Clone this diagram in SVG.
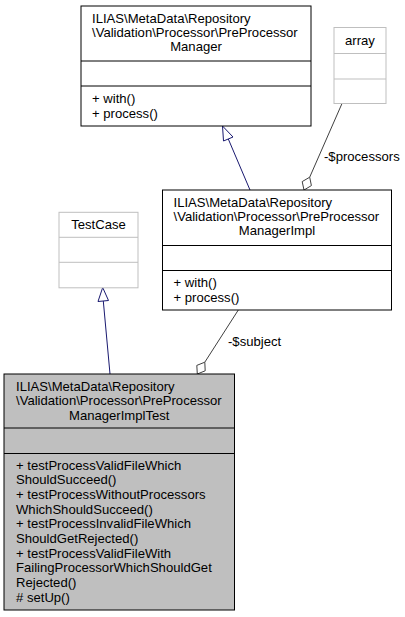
<svg xmlns="http://www.w3.org/2000/svg" width="405" height="617" viewBox="0 0 405 617">
<style>
text{font-family:"Liberation Sans",Arial,Helvetica,sans-serif;font-size:13.1px;fill:#000}
.c{text-anchor:middle}
.box{fill:#fff;stroke:#000;stroke-width:1}
.gbox{fill:#fff;stroke:#bfbfbf;stroke-width:1}
.sel{fill:#bfbfbf;stroke:#000;stroke-width:1}
.k{stroke:#000;stroke-width:1}
.g{stroke:#bfbfbf;stroke-width:1}
.inh{stroke:#191970;stroke-width:1;fill:none}
.inhh{stroke:#191970;stroke-width:1;fill:#fff}
.agg{stroke:#404040;stroke-width:1;fill:none}
.aggh{stroke:#404040;stroke-width:1;fill:#fff}
</style>
<rect width="405" height="617" fill="#fff"/>
<g id="connectors">
<line class="inh" x1="250" y1="190" x2="228.3" y2="139"/>
<polygon class="inhh" points="222.5,126 233,137 223.5,141"/>
<line class="inh" x1="110" y1="374" x2="103.3" y2="301"/>
<polygon class="inhh" points="102.7,287.5 108.5,300.5 98,301.5"/>
<line class="agg" x1="342" y1="103.5" x2="309.7" y2="177.2"/>
<polygon class="aggh" points="304,190 311.4,185.6 309.7,177.2 302.2,181.6"/>
<text x="324" y="161">-$processors</text>
<line class="agg" x1="238.3" y1="310" x2="204.8" y2="362.2"/>
<polygon class="aggh" points="197.3,374 205.2,370.8 204.8,362.2 196.8,365.4"/>
<text x="228" y="345.5">-$subject</text>
</g>
<g id="node-manager">
<rect class="box" x="81" y="6" width="230" height="120"/>
<line class="k" x1="81" y1="61" x2="311" y2="61"/>
<line class="k" x1="81" y1="86" x2="311" y2="86"/>
<text x="92" y="22.5">ILIAS\MetaData\Repository</text>
<text x="92" y="36.7">\Validation\Processor\PreProcessor</text>
<text class="c" x="196" y="50.9">Manager</text>
<text x="92" y="103">+ with()</text>
<text x="92" y="117.8">+ process()</text>
</g>
<g id="node-array">
<rect class="gbox" x="334" y="27.5" width="52" height="76"/>
<line class="g" x1="334" y1="53.5" x2="386" y2="53.5"/>
<line class="g" x1="334" y1="79" x2="386" y2="79"/>
<text class="c" x="360" y="45">array</text>
</g>
<g id="node-impl">
<rect class="box" x="162.5" y="190" width="229" height="120"/>
<line class="k" x1="162.5" y1="245.5" x2="391.5" y2="245.5"/>
<line class="k" x1="162.5" y1="270.5" x2="391.5" y2="270.5"/>
<text x="173.5" y="206.5">ILIAS\MetaData\Repository</text>
<text x="173.5" y="220.7">\Validation\Processor\PreProcessor</text>
<text class="c" x="277" y="234.9">ManagerImpl</text>
<text x="173.5" y="287">+ with()</text>
<text x="173.5" y="302">+ process()</text>
</g>
<g id="node-testcase">
<rect class="gbox" x="59" y="212.3" width="79" height="75.5"/>
<line class="g" x1="59" y1="237.3" x2="138" y2="237.3"/>
<line class="g" x1="59" y1="262.3" x2="138" y2="262.3"/>
<text class="c" x="98.5" y="229.3">TestCase</text>
</g>
<g id="node-test">
<rect class="sel" x="4" y="374" width="230.5" height="236"/>
<line class="k" x1="4" y1="428" x2="234.5" y2="428"/>
<line class="k" x1="4" y1="453.5" x2="234.5" y2="453.5"/>
<text x="16" y="391">ILIAS\MetaData\Repository</text>
<text x="16" y="405.3">\Validation\Processor\PreProcessor</text>
<text class="c" x="119.2" y="419.5">ManagerImplTest</text>
<text x="16" y="469.5">+ testProcessValidFileWhich</text>
<text x="16" y="484.2">ShouldSucceed()</text>
<text x="16" y="498.9">+ testProcessWithoutProcessors</text>
<text x="16" y="513.6">WhichShouldSucceed()</text>
<text x="16" y="528.3">+ testProcessInvalidFileWhich</text>
<text x="16" y="543">ShouldGetRejected()</text>
<text x="16" y="557.7">+ testProcessValidFileWith</text>
<text x="16" y="572.4">FailingProcessorWhichShouldGet</text>
<text x="16" y="587.1">Rejected()</text>
<text x="16" y="601.8"># setUp()</text>
</g>
</svg>
